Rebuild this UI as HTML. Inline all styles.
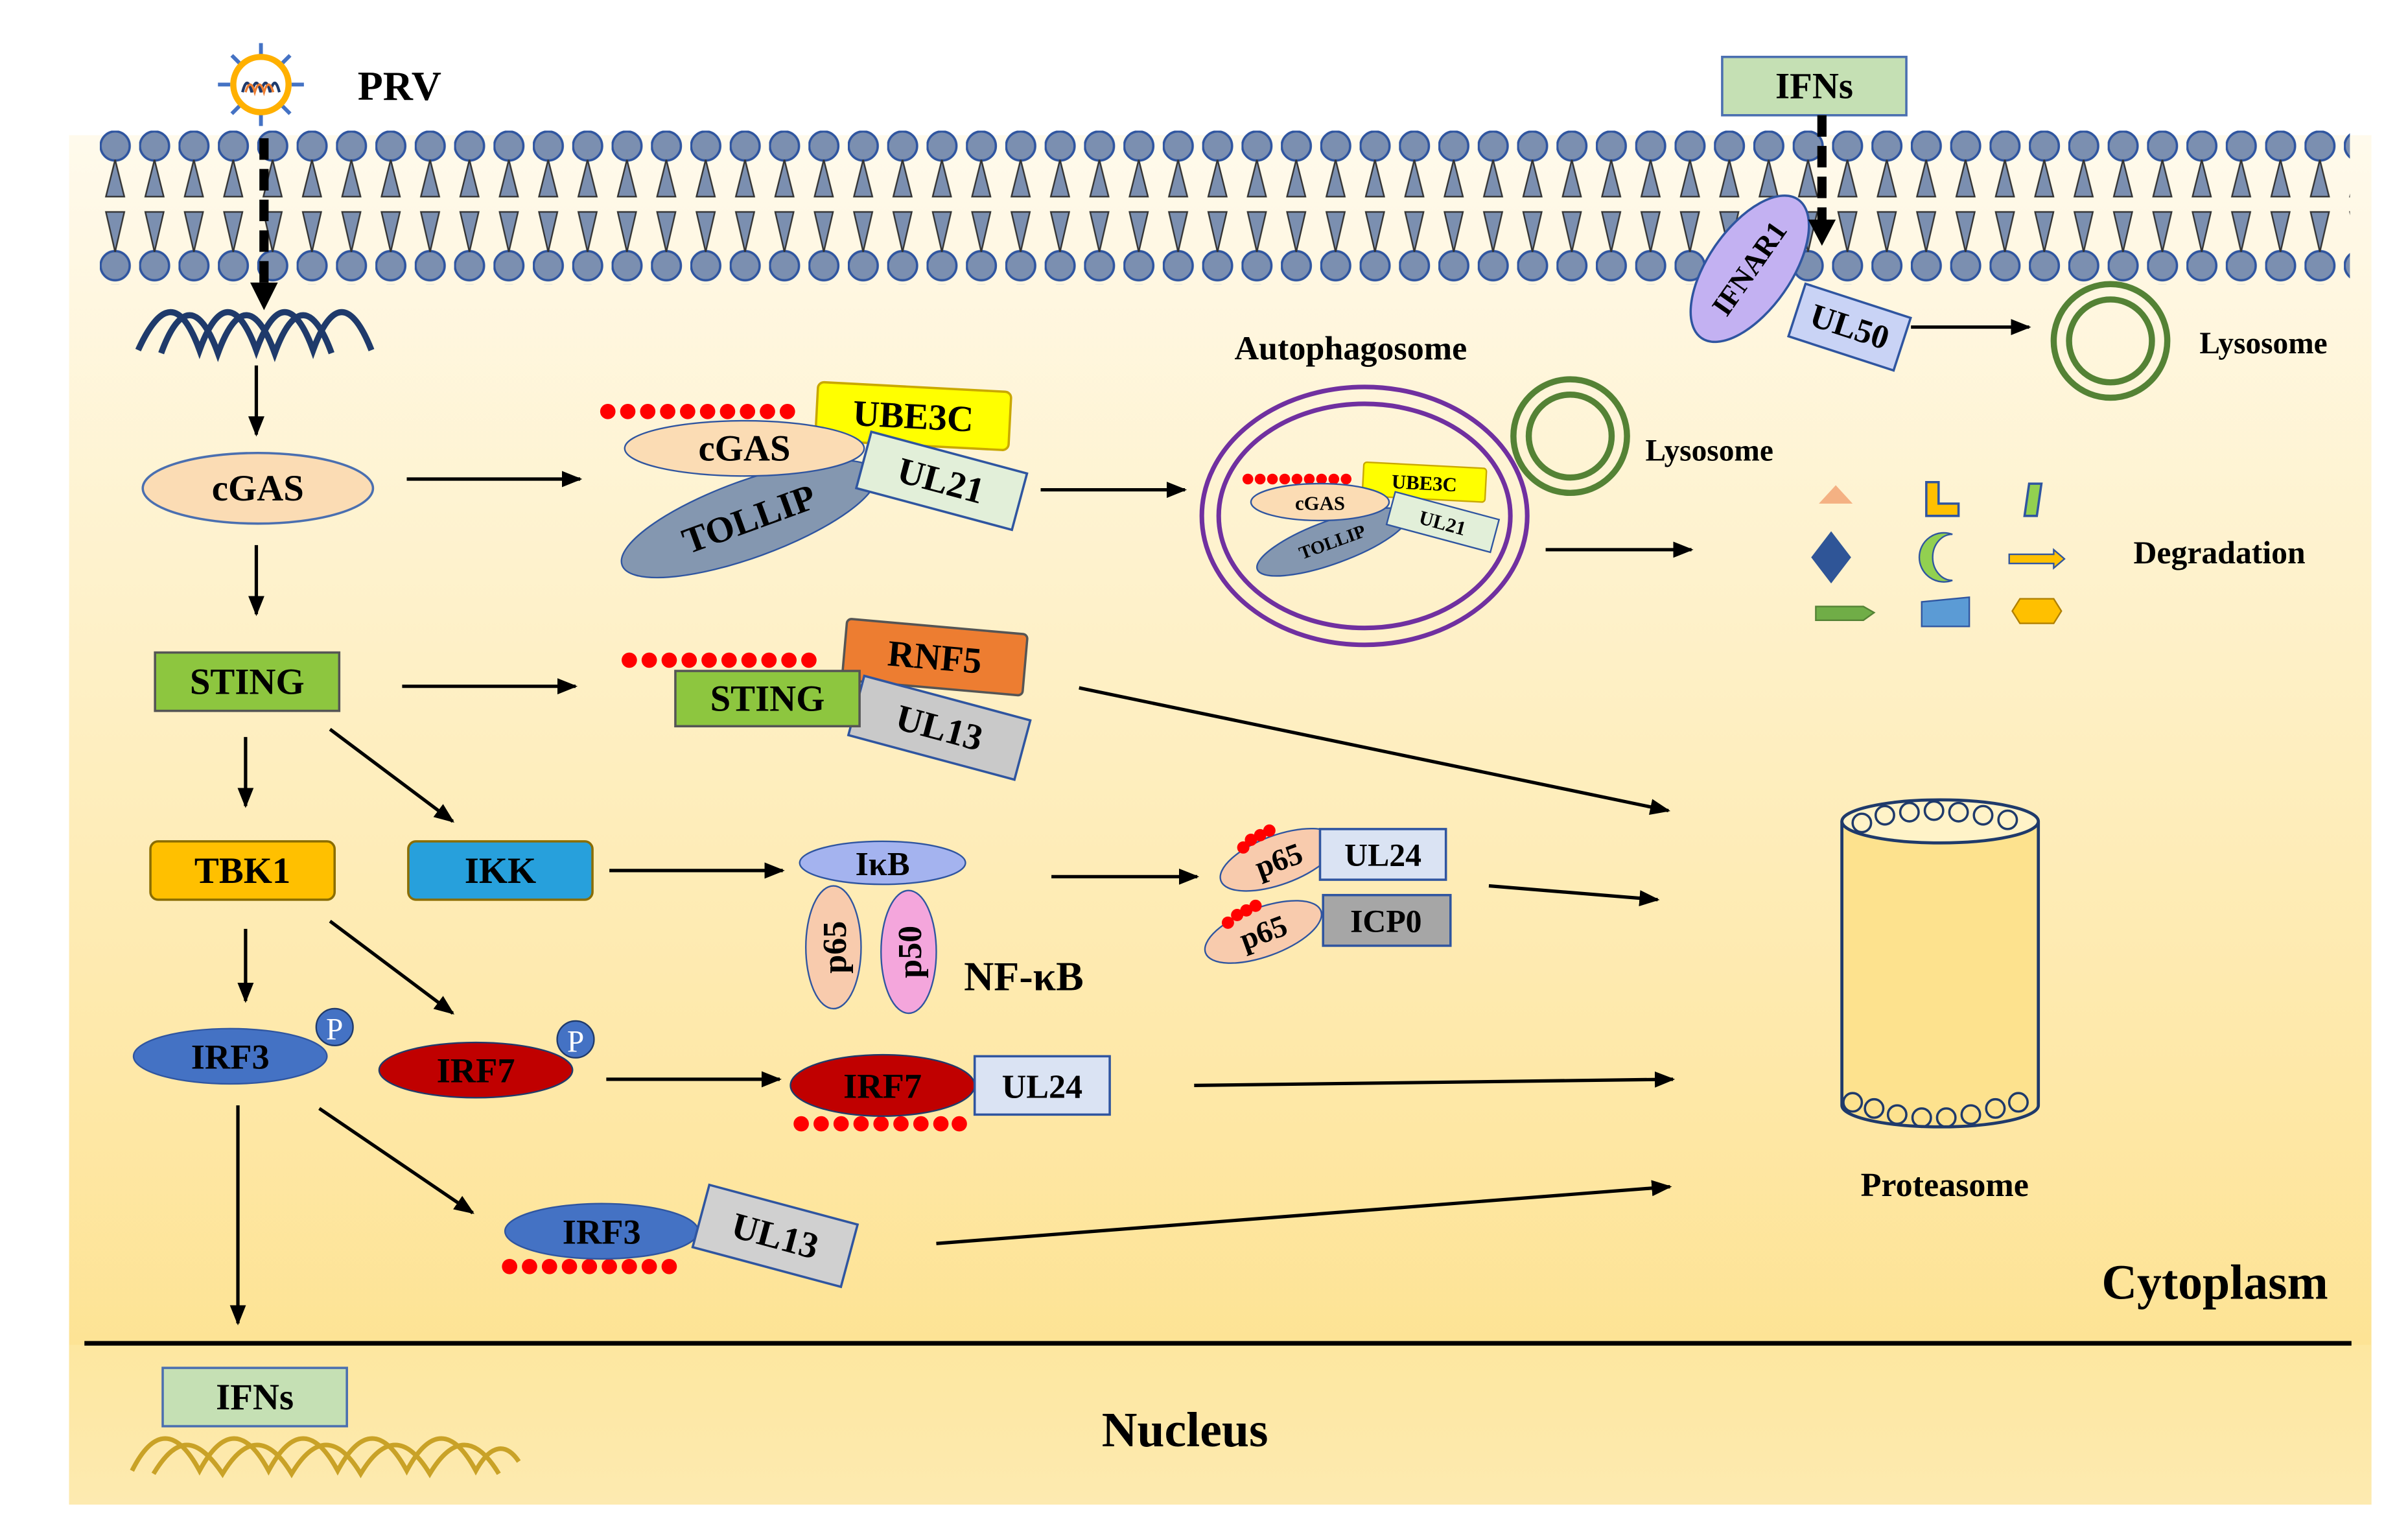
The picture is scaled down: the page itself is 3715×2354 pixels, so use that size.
<!DOCTYPE html>
<html><head><meta charset="utf-8"><style>html,body{margin:0;padding:0;background:#fff}svg{display:block}</style></head>
<body>
<svg width="3715" height="2354" viewBox="0 0 1550 982" xmlns="http://www.w3.org/2000/svg" font-family="Liberation Serif, serif" font-weight="bold">
<defs>
<linearGradient id="bg" x1="0" y1="0" x2="0" y2="1"><stop offset="0" stop-color="#fffaec"/><stop offset="1" stop-color="#fde089"/></linearGradient>
<linearGradient id="nb" x1="0" y1="0" x2="0" y2="1"><stop offset="0" stop-color="#fde7a0"/><stop offset="1" stop-color="#fdeab0"/></linearGradient>
<pattern id="mem" x="65" y="85" width="25.65" height="100" patternUnits="userSpaceOnUse">
<circle cx="10" cy="10" r="9.5" fill="#7b8fb0" stroke="#2f55a0" stroke-width="1.5"/>
<circle cx="10" cy="88" r="9.5" fill="#7b8fb0" stroke="#2f55a0" stroke-width="1.5"/>
<path d="M10 19 L4 43 L16 43 Z" fill="#7b8fb0" stroke="#333" stroke-width="1"/>
<path d="M4 53 L16 53 L10 79 Z" fill="#7b8fb0" stroke="#333" stroke-width="1"/>
</pattern>
<marker id="ah" viewBox="0 0 10 10" refX="9" refY="5" markerWidth="6" markerHeight="6" orient="auto"><path d="M0 1 L10 5 L0 9 Z" fill="#000"/></marker>
</defs>
<g transform="scale(0.988)">
<rect x="45" y="88" width="1500" height="892" fill="url(#bg)"/>
<rect x="45" y="876" width="1500" height="104" fill="url(#nb)"/>
<rect x="65" y="85" width="1466" height="100" fill="url(#mem)"/>

<!-- PRV -->
<g stroke="#4472c4" stroke-width="2.5">
<line x1="170" y1="28" x2="170" y2="36"/><line x1="170" y1="74" x2="170" y2="82"/>
<line x1="142" y1="55" x2="150" y2="55"/><line x1="190" y1="55" x2="198" y2="55"/>
<line x1="151" y1="36" x2="156" y2="41"/><line x1="184" y1="69" x2="189" y2="74"/>
<line x1="189" y1="36" x2="184" y2="41"/><line x1="151" y1="74" x2="156" y2="69"/>
</g>
<circle cx="170" cy="55" r="18" fill="#fff" stroke="#ffb000" stroke-width="4"/>
<path d="M158 60 q3-12 6 0 q3-12 6 0 q3-12 6 0 q3-12 6 0" fill="none" stroke="#1f3a6b" stroke-width="1.8"/>
<path d="M160 60 q3-10 6 0 q3-10 6 0 q3-10 6 0" fill="none" stroke="#ed7d31" stroke-width="1.5"/>
<text x="233" y="65" font-size="27">PRV</text>
<line x1="172" y1="90" x2="172" y2="192" stroke="#000" stroke-width="6" stroke-dasharray="14,6"/>
<path d="M163 184 L181 184 L172 202 Z"/>
<!-- DNA -->
<path d="M90 228 C105 195 118 195 130 228 C142 195 155 195 167 228 C179 195 192 195 204 228 C216 195 229 195 242 228" fill="none" stroke="#1f3a6b" stroke-width="4"/>
<path d="M105 230 C117 197 130 197 142 230 C154 197 167 197 179 230 C191 197 204 197 216 230" fill="none" stroke="#1f3a6b" stroke-width="4"/>

<g stroke="#000" stroke-width="2.2" fill="none" marker-end="url(#ah)">
<line x1="167" y1="238" x2="167" y2="283"/>
<line x1="167" y1="355" x2="167" y2="400"/>
<line x1="160" y1="480" x2="160" y2="525"/>
<line x1="215" y1="475" x2="295" y2="535"/>
<line x1="160" y1="605" x2="160" y2="652"/>
<line x1="215" y1="600" x2="295" y2="660"/>
<line x1="155" y1="720" x2="155" y2="862"/>
<line x1="208" y1="722" x2="308" y2="790"/>
<line x1="395" y1="703" x2="508" y2="703"/>
<line x1="778" y1="707" x2="1090" y2="703"/>
<line x1="610" y1="810" x2="1088" y2="773"/>
<line x1="397" y1="567" x2="510" y2="567"/>
<line x1="685" y1="571" x2="780" y2="571"/>
<line x1="970" y1="577" x2="1080" y2="586"/>
<line x1="262" y1="447" x2="375" y2="447"/>
<line x1="703" y1="448" x2="1087" y2="528"/>
<line x1="265" y1="312" x2="378" y2="312"/>
<line x1="678" y1="319" x2="772" y2="319"/>
<line x1="1007" y1="358" x2="1102" y2="358"/>
<line x1="1245" y1="213" x2="1322" y2="213"/>
</g>

<!-- left column -->
<ellipse cx="168" cy="318" rx="75" ry="23" fill="#fbdcb4" stroke="#4a6fb0" stroke-width="1.5"/>
<text x="168" y="326" font-size="24" text-anchor="middle">cGAS</text>
<rect x="101" y="425" width="120" height="38" fill="#8dc63f" stroke="#555" stroke-width="1.5"/>
<text x="161" y="452" font-size="24" text-anchor="middle">STING</text>
<rect x="98" y="548" width="120" height="38" rx="5" fill="#ffc000" stroke="#8a6d00" stroke-width="1.5"/>
<text x="158" y="575" font-size="24" text-anchor="middle">TBK1</text>
<rect x="266" y="548" width="120" height="38" rx="5" fill="#27a0dc" stroke="#8a6d00" stroke-width="1.5"/>
<text x="326" y="575" font-size="24" text-anchor="middle">IKK</text>
<ellipse cx="150" cy="688" rx="63" ry="18" fill="#4472c4" stroke="#2f55a0"/>
<text x="150" y="696" font-size="23" text-anchor="middle">IRF3</text>
<circle cx="218" cy="669" r="12" fill="#4472c4" stroke="#1f3a6b"/>
<text x="218" y="677" font-size="20" fill="#fff" text-anchor="middle" font-weight="normal">P</text>
<ellipse cx="310" cy="697" rx="63" ry="18" fill="#c00000" stroke="#1f3a6b"/>
<text x="310" y="705" font-size="23" text-anchor="middle">IRF7</text>
<circle cx="375" cy="677" r="12" fill="#4472c4" stroke="#1f3a6b"/>
<text x="375" y="685" font-size="20" fill="#fff" text-anchor="middle" font-weight="normal">P</text>

<!-- IRF3 complex -->
<g fill="#f00">
<circle cx="332" cy="825" r="5"/><circle cx="345" cy="825" r="5"/><circle cx="358" cy="825" r="5"/><circle cx="371" cy="825" r="5"/><circle cx="384" cy="825" r="5"/><circle cx="397" cy="825" r="5"/><circle cx="410" cy="825" r="5"/><circle cx="423" cy="825" r="5"/><circle cx="436" cy="825" r="5"/>
</g>
<ellipse cx="392" cy="802" rx="63" ry="18" fill="#4472c4" stroke="#2f55a0"/>
<text x="392" y="810" font-size="23" text-anchor="middle">IRF3</text>
<g transform="translate(505,805) rotate(15)"><rect x="-50" y="-21" width="100" height="42" fill="#d0d0d0" stroke="#2f55a0" stroke-width="1.5"/><text y="8" font-size="24" text-anchor="middle">UL13</text></g>

<!-- IRF7 complex -->
<g fill="#f00">
<circle cx="522" cy="732" r="5"/><circle cx="535" cy="732" r="5"/><circle cx="548" cy="732" r="5"/><circle cx="561" cy="732" r="5"/><circle cx="574" cy="732" r="5"/><circle cx="587" cy="732" r="5"/><circle cx="600" cy="732" r="5"/><circle cx="613" cy="732" r="5"/><circle cx="625" cy="732" r="5"/>
</g>
<ellipse cx="575" cy="707" rx="60" ry="20" fill="#c00000" stroke="#1f3a6b"/>
<text x="575" y="715" font-size="23" text-anchor="middle">IRF7</text>
<rect x="635" y="688" width="88" height="38" fill="#dae3f3" stroke="#2f55a0" stroke-width="1.5"/>
<text x="679" y="715" font-size="22" text-anchor="middle">UL24</text>

<!-- NF-kB -->
<ellipse cx="575" cy="562" rx="54" ry="14" fill="#a4b3ef" stroke="#2f55a0"/>
<text x="575" y="570" font-size="22" text-anchor="middle">IκB</text>
<ellipse cx="543" cy="617" rx="18" ry="40" fill="#f8cbad" stroke="#2f55a0"/>
<text transform="translate(551,617) rotate(-90)" font-size="22" text-anchor="middle">p65</text>
<ellipse cx="592" cy="620" rx="18" ry="40" fill="#f4a6dc" stroke="#2f55a0"/>
<text transform="translate(600,620) rotate(-90)" font-size="22" text-anchor="middle">p50</text>
<text x="628" y="645" font-size="27">NF-κB</text>

<!-- p65 complexes -->
<g transform="translate(833,560) rotate(-20)"><ellipse rx="40" ry="16" fill="#f8cbad" stroke="#2f55a0"/><text y="7" font-size="20" text-anchor="middle">p65</text></g>
<g fill="#f00"><circle cx="810" cy="552" r="4"/><circle cx="815" cy="547" r="4"/><circle cx="821" cy="544" r="4"/><circle cx="827" cy="541" r="4"/></g>
<rect x="860" y="540" width="82" height="33" fill="#dae3f3" stroke="#2f55a0" stroke-width="1.5"/>
<text x="901" y="564" font-size="21" text-anchor="middle">UL24</text>
<g transform="translate(823,607) rotate(-20)"><ellipse rx="40" ry="16" fill="#f8cbad" stroke="#2f55a0"/><text y="7" font-size="20" text-anchor="middle">p65</text></g>
<g fill="#f00"><circle cx="800" cy="601" r="4"/><circle cx="806" cy="596" r="4"/><circle cx="812" cy="593" r="4"/><circle cx="818" cy="590" r="4"/></g>
<rect x="862" y="583" width="83" height="33" fill="#a6a6a6" stroke="#2f55a0" stroke-width="1.5"/>
<text x="903" y="607" font-size="21" text-anchor="middle">ICP0</text>

<!-- STING complex -->
<g fill="#f00">
<circle cx="410" cy="430" r="5"/><circle cx="423" cy="430" r="5"/><circle cx="436" cy="430" r="5"/><circle cx="449" cy="430" r="5"/><circle cx="462" cy="430" r="5"/><circle cx="475" cy="430" r="5"/><circle cx="488" cy="430" r="5"/><circle cx="501" cy="430" r="5"/><circle cx="514" cy="430" r="5"/><circle cx="527" cy="430" r="5"/>
</g>
<g transform="translate(609,428) rotate(5)"><rect x="-59" y="-20" width="118" height="40" rx="3" fill="#ed7d31" stroke="#555" stroke-width="1.5"/><text y="8" font-size="24" text-anchor="middle">RNF5</text></g>
<g transform="translate(612,474) rotate(15)"><rect x="-56" y="-20" width="112" height="40" fill="#c9c9c9" stroke="#2f55a0" stroke-width="1.5"/><text y="8" font-size="24" text-anchor="middle">UL13</text></g>
<rect x="440" y="437" width="120" height="36" fill="#8dc63f" stroke="#555" stroke-width="1.5"/>
<text x="500" y="463" font-size="24" text-anchor="middle">STING</text>

<!-- cGAS complex -->
<g fill="#f00">
<circle cx="396" cy="268" r="5"/><circle cx="409" cy="268" r="5"/><circle cx="422" cy="268" r="5"/><circle cx="435" cy="268" r="5"/><circle cx="448" cy="268" r="5"/><circle cx="461" cy="268" r="5"/><circle cx="474" cy="268" r="5"/><circle cx="487" cy="268" r="5"/><circle cx="500" cy="268" r="5"/><circle cx="513" cy="268" r="5"/>
</g>
<g transform="translate(595,271) rotate(3)"><rect x="-63" y="-19" width="126" height="38" rx="4" fill="#ffff00" stroke="#c9a800" stroke-width="1.5"/><text y="8" font-size="24" text-anchor="middle">UBE3C</text></g>
<g transform="translate(488,338) rotate(-20)"><ellipse rx="88" ry="25" fill="#8497b0" stroke="#2f55a0"/><text y="8" font-size="24" text-anchor="middle">TOLLIP</text></g>
<ellipse cx="485" cy="292" rx="78" ry="18" fill="#fbdcb4" stroke="#2f55a0"/>
<text x="485" y="300" font-size="24" text-anchor="middle">cGAS</text>
<g transform="translate(613,313) rotate(15)"><rect x="-52" y="-19" width="105" height="38" fill="#e2efd9" stroke="#2f55a0" stroke-width="1.5"/><text y="8" font-size="24" text-anchor="middle">UL21</text></g>

<!-- Autophagosome -->
<text x="880" y="234" font-size="22" text-anchor="middle">Autophagosome</text>
<ellipse cx="889" cy="336" rx="106" ry="84" fill="none" stroke="#7030a0" stroke-width="3"/>
<ellipse cx="889" cy="336" rx="95" ry="73" fill="none" stroke="#7030a0" stroke-width="3"/>
<g fill="#f00"><circle cx="813" cy="312" r="3.5"/><circle cx="821" cy="312" r="3.5"/><circle cx="829" cy="312" r="3.5"/><circle cx="837" cy="312" r="3.5"/><circle cx="845" cy="312" r="3.5"/><circle cx="853" cy="312" r="3.5"/><circle cx="861" cy="312" r="3.5"/><circle cx="869" cy="312" r="3.5"/><circle cx="877" cy="312" r="3.5"/></g>
<g transform="translate(928,314) rotate(3)"><rect x="-40" y="-11" width="80" height="22" rx="2" fill="#ffff00" stroke="#c9a800"/><text y="5" font-size="13" text-anchor="middle">UBE3C</text></g>
<g transform="translate(868,353) rotate(-20)"><ellipse rx="52" ry="14" fill="#8497b0" stroke="#2f55a0"/><text y="4" font-size="12" text-anchor="middle">TOLLIP</text></g>
<ellipse cx="860" cy="327" rx="45" ry="12" fill="#fbdcb4" stroke="#2f55a0"/>
<text x="860" y="332" font-size="13" text-anchor="middle">cGAS</text>
<g transform="translate(940,340) rotate(15)"><rect x="-35" y="-11" width="70" height="22" fill="#e2efd9" stroke="#2f55a0"/><text y="5" font-size="13" text-anchor="middle">UL21</text></g>

<circle cx="1023" cy="284" r="37" fill="none" stroke="#548235" stroke-width="4"/>
<circle cx="1023" cy="284" r="27" fill="none" stroke="#548235" stroke-width="4"/>
<text x="1072" y="300" font-size="20">Lysosome</text>

<!-- degradation shapes -->
<path d="M1185 328 L1196 316 L1207 328 Z" fill="#f4b183"/>
<path d="M1255 314 L1263 314 L1263 328 L1276 328 L1276 336 L1255 336 Z" fill="#ffc000" stroke="#2f55a0" stroke-width="1.5"/>
<path d="M1322 315 L1330 315 L1327 336 L1319 336 Z" fill="#92d050" stroke="#2f55a0" stroke-width="1.5"/>
<path d="M1193 346 L1206 363 L1193 380 L1180 363 Z" fill="#2f5597"/>
<path d="M1272 348 A16 16 0 1 0 1272 378 A12 14 0 1 1 1272 348 Z" fill="#92d050" stroke="#2f55a0"/>
<path d="M1309 361 L1338 361 L1338 358 L1345 364 L1338 370 L1338 367 L1309 367 Z" fill="#ffc000" stroke="#2f55a0"/>
<path d="M1183 395 L1214 395 L1221 399 L1214 404 L1183 404 Z" fill="#70ad47" stroke="#548235"/>
<path d="M1252 392 L1283 389 L1283 408 L1252 408 Z" fill="#5b9bd5" stroke="#2f55a0"/>
<path d="M1316 390 L1338 390 L1343 398 L1338 406 L1316 406 L1311 398 Z" fill="#ffc000" stroke="#b08000"/>
<text x="1390" y="367" font-size="21">Degradation</text>

<!-- proteasome -->
<path d="M1200 535 L1200 720 A64 14 0 0 0 1328 720 L1328 535" fill="#fde28e" stroke="#1f3a6b" stroke-width="2"/>
<ellipse cx="1264" cy="535" rx="64" ry="14" fill="#fff3c8" stroke="#1f3a6b" stroke-width="2"/>
<g fill="none" stroke="#1f3a6b" stroke-width="1.5">
<circle cx="1213" cy="536" r="6"/><circle cx="1228" cy="531" r="6"/><circle cx="1244" cy="529" r="6"/><circle cx="1260" cy="528" r="6"/><circle cx="1276" cy="529" r="6"/><circle cx="1292" cy="531" r="6"/><circle cx="1308" cy="534" r="6"/>
<circle cx="1207" cy="718" r="6"/><circle cx="1221" cy="722" r="6"/><circle cx="1236" cy="726" r="6"/><circle cx="1252" cy="728" r="6"/><circle cx="1268" cy="728" r="6"/><circle cx="1284" cy="726" r="6"/><circle cx="1300" cy="722" r="6"/><circle cx="1315" cy="718" r="6"/>
</g>
<text x="1267" y="779" font-size="22" text-anchor="middle">Proteasome</text>

<!-- IFNs top -->
<rect x="1122" y="37" width="120" height="38" fill="#c5e0b4" stroke="#4a6fb0" stroke-width="1.5"/>
<text x="1182" y="64" font-size="24" text-anchor="middle">IFNs</text>
<g transform="translate(1140,175) rotate(35)"><ellipse rx="27" ry="55" fill="#c3b1f2" stroke="#2f55a0" stroke-width="1.5"/><text transform="rotate(-90)" y="6" font-size="19" text-anchor="middle">IFNAR1</text></g>
<line x1="1187" y1="75" x2="1187" y2="150" stroke="#000" stroke-width="6" stroke-dasharray="14,6"/>
<path d="M1178 143 L1196 143 L1187 160 Z"/>
<g transform="translate(1205,213) rotate(18)"><rect x="-36" y="-18" width="72" height="36" fill="#c9d3f5" stroke="#2f55a0" stroke-width="1.5"/><text y="7" font-size="22" text-anchor="middle">UL50</text></g>
<circle cx="1375" cy="222" r="37" fill="none" stroke="#548235" stroke-width="4"/>
<circle cx="1375" cy="222" r="27" fill="none" stroke="#548235" stroke-width="4"/>
<text x="1433" y="230" font-size="20">Lysosome</text>

<!-- bottom -->
<text x="1443" y="846" font-size="32" text-anchor="middle">Cytoplasm</text>
<line x1="55" y1="875" x2="1532" y2="875" stroke="#000" stroke-width="3"/>
<rect x="106" y="891" width="120" height="38" fill="#c5e0b4" stroke="#4a6fb0" stroke-width="1.5"/>
<text x="166" y="918" font-size="24" text-anchor="middle">IFNs</text>
<path d="M86 958 C100 930 115 930 130 958 C145 930 160 930 175 958 C190 930 205 930 220 958 C235 930 250 930 265 958 C280 930 295 930 310 958 C320 940 330 940 338 952" fill="none" stroke="#c9a227" stroke-width="3"/>
<path d="M100 960 C115 935 128 935 145 960 C160 935 175 935 190 960 C205 935 220 935 235 960 C250 935 265 935 280 960 C295 935 310 935 325 960" fill="none" stroke="#c9a227" stroke-width="3"/>
<text x="772" y="942" font-size="32" text-anchor="middle">Nucleus</text>
</g>
</svg>
</body></html>
